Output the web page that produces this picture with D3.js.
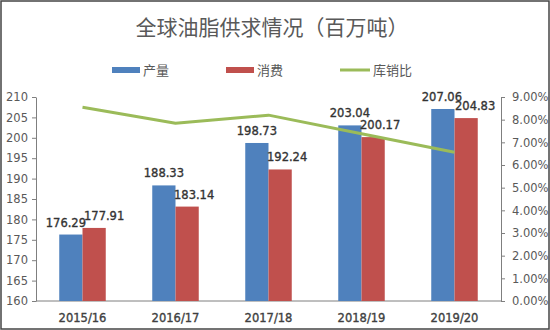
<!DOCTYPE html>
<html><head><meta charset="utf-8">
<script src="https://cdn.jsdelivr.net/npm/d3@7"></script>
<style>body{margin:0;background:#fff}svg{display:block}</style>
</head><body>
<svg id="c" width="550" height="330"></svg>
<script>
const categories = ["2015/16","2016/17","2017/18","2018/19","2019/20"];
const production = [176.29,188.33,198.73,203.04,207.06];
const consumption = [177.91,183.14,192.24,200.17,204.83];
const stockRatio = [8.55,7.84,8.20,7.38,6.56];
const leftTicks = [160,165,170,175,180,185,190,195,200,205,210];
const rightTicks = [0,1,2,3,4,5,6,7,8,9];
const seriesNames = ["产量","消费","库销比"];
const colors = ["#4F81BD","#C0504D","#9BBB59"];

const svg = d3.select("#c");
const W=550,H=330;
const m={l:36,r:501,t:97,b:301};
const font="DejaVu Sans, Verdana, sans-serif";
const cjk="'Noto Sans CJK SC', sans-serif";

svg.append("rect").attr("x",1).attr("y",1).attr("width",W-2).attr("height",H-2)
  .attr("fill","#fff").attr("stroke","#444").attr("stroke-width",1.5);

svg.append("text").attr("x",272).attr("y",35).attr("text-anchor","middle")
  .attr("font-family",cjk).attr("font-size",21).attr("fill","#595959")
  .text("全球油脂供求情况（百万吨）");

const x = d3.scaleBand().domain(categories).range([m.l,m.r]).paddingInner(0.5).paddingOuter(0.25);
const xs = d3.scaleBand().domain([0,1]).range([0,x.bandwidth()]);
const y = d3.scaleLinear().domain([160,210]).range([m.b,m.t]);
const y2 = d3.scaleLinear().domain([0,9]).range([m.b,m.t]);

// legend
const lg = svg.append("g").attr("font-family",cjk).attr("font-size",13).attr("fill","#595959");
const lx=[112,226,340];
[0,1].forEach(i=>{
  lg.append("rect").attr("x",lx[i]).attr("y",67).attr("width",28).attr("height",6).attr("fill",colors[i]);
  lg.append("text").attr("x",lx[i]+31).attr("y",75).text(seriesNames[i]);
});
lg.append("line").attr("x1",lx[2]).attr("x2",lx[2]+30).attr("y1",70).attr("y2",70).attr("stroke",colors[2]).attr("stroke-width",3);
lg.append("text").attr("x",lx[2]+33).attr("y",75).text(seriesNames[2]);

// axes
const ga = svg.append("g").attr("transform",`translate(${m.l},0)`)
  .call(d3.axisLeft(y).tickValues(leftTicks).tickSize(4).tickSizeOuter(0).tickPadding(4));
const gr = svg.append("g").attr("transform",`translate(${m.r},0)`)
  .call(d3.axisRight(y2).tickValues(rightTicks).tickFormat(d=>d.toFixed(2)+"%").tickSize(4).tickSizeOuter(0).tickPadding(7));
[ga,gr].forEach(g=>{
  g.selectAll("path,line").attr("stroke","#7f7f7f");
  g.selectAll("text").attr("font-family",font).attr("font-size",11.5).attr("fill","#595959");
});
// bottom axis
svg.append("line").attr("x1",m.l).attr("x2",m.r).attr("y1",m.b).attr("y2",m.b).attr("stroke","#7f7f7f");
svg.append("g").selectAll("text").data(categories).join("text")
  .attr("x",d=>x(d)+x.bandwidth()/2).attr("y",322).attr("text-anchor","middle")
  .attr("font-family",font).attr("font-size",11.5).attr("fill","#404040")
  .attr("stroke","#404040").attr("stroke-width",0.35).text(d=>d);

// bars
const series=[production,consumption];
series.forEach((vals,si)=>{
  svg.append("g").selectAll("rect").data(vals).join("rect")
    .attr("x",(d,i)=>x(categories[i])+xs(si)).attr("width",xs.bandwidth())
    .attr("y",d=>y(d)).attr("height",d=>m.b-y(d)).attr("fill",colors[si]);
});
// labels
const labOff=[[-5,0,0,0,-1],[10,7,7,7,9]];
series.forEach((vals,si)=>{
  svg.append("g").selectAll("text").data(vals).join("text")
    .attr("x",(d,i)=>x(categories[i])+xs(si)+xs.bandwidth()/2+labOff[si][i])
    .attr("y",d=>y(d)-8).attr("text-anchor","middle")
    .attr("font-family",font).attr("font-size",11.5).attr("fill","#333")
    .attr("stroke","#333").attr("stroke-width",0.35)
    .text(d=>d.toFixed(2));
});

// line
const line=d3.line().x((d,i)=>x(categories[i])+x.bandwidth()/2).y(d=>y2(d));
svg.append("path").datum(stockRatio).attr("d",line).attr("fill","none")
  .attr("stroke",colors[2]).attr("stroke-width",3).attr("stroke-linejoin","round");
</script>
</body></html>
